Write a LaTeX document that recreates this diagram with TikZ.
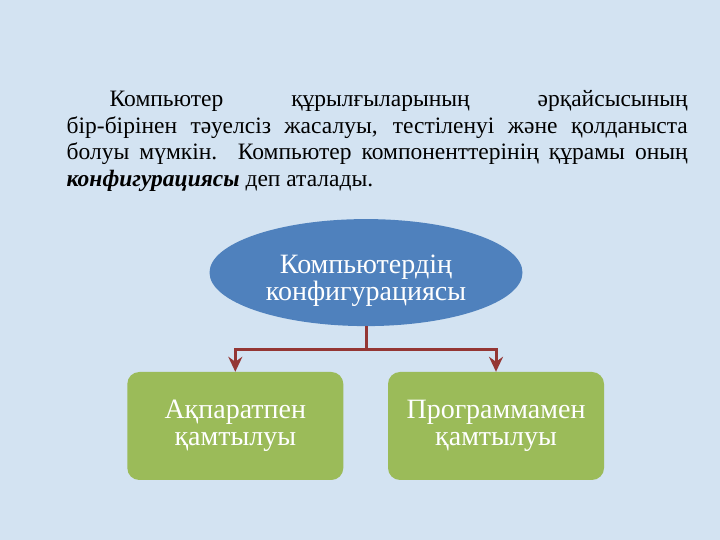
\documentclass[tikz,border=0pt]{standalone}
\usepackage{fontspec}
\setmainfont{Liberation Serif}
\usetikzlibrary{arrows.meta,positioning,shapes.geometric}
\definecolor{slidebg}{HTML}{D3E3F2}
\definecolor{slideblue}{HTML}{4F81BD}
\definecolor{slidegreen}{HTML}{9BBB59}
\definecolor{slidered}{HTML}{943634}

\begin{document}
\begin{tikzpicture}[
        x=1pt,y=1pt,
        link/.style={draw=slidered,line width=3pt},
        linkarrow/.style={link,-{Stealth[length=15pt,width=14pt,inset=5pt]}},
        hub/.style={ellipse,minimum width=313pt,minimum height=107pt,inner sep=0pt,
          fill=slideblue,align=center,text=white,
          font=\fontsize{28}{27}\selectfont},
        part/.style={rounded corners=12pt,minimum width=216pt,minimum height=108pt,
          fill=slidegreen,align=center,text=white,
          font=\fontsize{28}{27}\selectfont}
      ]
        \fill[slidebg] (0,0) rectangle (720,540);
        \useasboundingbox (0,0) rectangle (720,540);

        \node[anchor=north west,inner sep=0pt,text width=621pt,align=justify,
          font=\fontsize{23.5}{26.7}\selectfont] (intro) at (66.5,457.7) {%
          \rule{0pt}{24pt}\hspace*{43pt}Компьютер құрылғыларының әрқайсысының\linebreak
          бір-бірінен тәуелсіз жасалуы, тестіленуі және қолданыста\linebreak
          болуы мүмкін. Компьютер компоненттерінің құрамы оның\linebreak
          \textbf{\textit{конфигурациясы}} деп аталады.};

        \node[hub] (config) at (366,267.4) {\rule{0pt}{34pt}Компьютердің\\конфигурациясы};

        \node[part] (info) at (235.3,114) {Ақпаратпен\\қамтылуы};
        \node[part] (soft) at (496,114) {Программамен\\қамтылуы};

        \coordinate (split) at (366,190.5);
        \draw[link] (config.south) -- (split);
        \draw[linkarrow] (split) -| (info.north);
        \draw[linkarrow] (split) -| (soft.north);
      \end{tikzpicture}
\end{document}
